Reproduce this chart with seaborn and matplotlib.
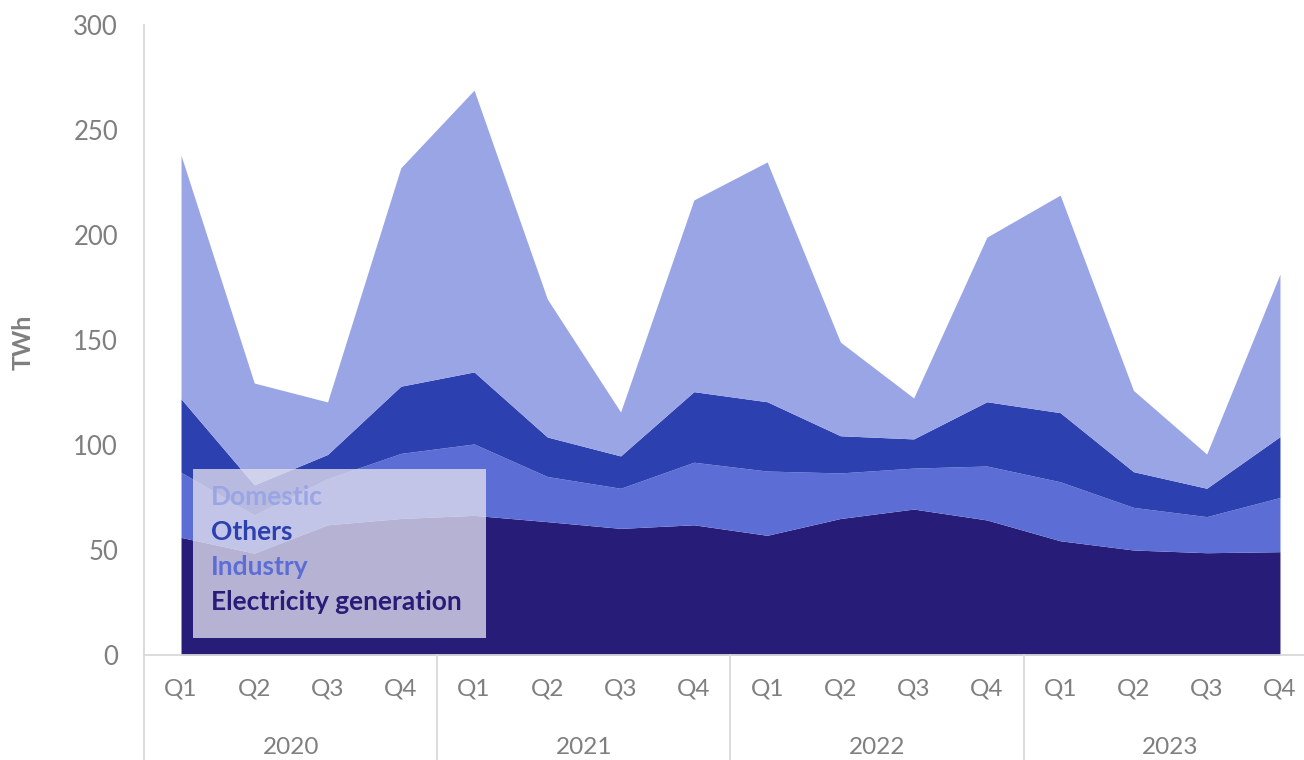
import matplotlib
matplotlib.use("Agg")
import matplotlib.pyplot as plt
import matplotlib.transforms as mtransforms
from matplotlib.patches import Rectangle
import seaborn as sns
import numpy as np

# ---- data (TWh) ----
years = ["2020", "2021", "2022", "2023"]
quarters = ["Q1", "Q2", "Q3", "Q4"]
electricity = [56, 48.5, 62, 65, 66.5, 63.5, 60.3, 62, 57, 65, 69.5, 64.3, 54.4, 50, 48.7, 49.2]
industry = [31, 18.2, 22, 31, 34, 21.5, 19.1, 29.8, 30.6, 21.7, 19.5, 25.7, 28.1, 20.3, 17.2, 25.8]
others = [35, 14.3, 11.5, 32, 34.3, 18.8, 15.4, 33.6, 33, 17.7, 13.9, 30.6, 32.9, 17, 13.5, 29]
domestic = [116, 48.5, 25, 104, 134.2, 65.7, 20.9, 91.3, 114.2, 44.6, 19.5, 78.4, 103.6, 38.7, 16.3, 77.4]
series_names = ["Electricity generation", "Industry", "Others", "Domestic"]
colors = ["#271C78", "#5C6ED6", "#2C40B0", "#99A5E4"]

sns.set_theme(style="white")
plt.rcParams['font.family'] = ['Lato', 'DejaVu Sans']

W, H = 1304, 760
fig = plt.figure(figsize=(W / 100, H / 100), dpi=100)
fig.patch.set_facecolor("white")
ax = fig.add_axes([144.4 / W, 105 / H, 1172.2 / W, 630 / H])

x = np.arange(len(electricity))
ax.stackplot(x, electricity, industry, others, domestic, colors=colors,
             labels=series_names, linewidth=0)

ax.set_xlim(-0.5, 15.5)
ax.set_ylim(0, 300)
ax.set_yticks(range(0, 301, 50))
ax.tick_params(axis="y", length=0, pad=19, labelsize=18.5, labelcolor="#7F7F7F")
ax.set_xticks(x)
ax.set_xticklabels(quarters * len(years))
ax.tick_params(axis="x", length=0, pad=17, labelsize=17.5, labelcolor="#7F7F7F")
ax.set_ylabel("TWh", fontsize=18, fontweight="bold", color="#7F7F7F")
ax.yaxis.set_label_coords((35 - 144.4) / 1172.2, (655 - 342) / 630)

sns.despine(ax=ax, top=True, right=True)
for s in ["left", "bottom"]:
    ax.spines[s].set_color("#D9D9D9")
    ax.spines[s].set_linewidth(1.3)

# separators and y-axis extension below the baseline
trans = mtransforms.blended_transform_factory(ax.transData, ax.transAxes)
ext = -105 / 630
for xs in [-0.5, 3.5, 7.5, 11.5]:
    ax.plot([xs, xs], [0, ext], transform=trans, color="#D9D9D9", lw=1.3, clip_on=False)

# year labels
for i, yr in enumerate(years):
    ax.text(i * 4 + 1.5, -93 / 630, yr, transform=trans, ha="center", va="center",
            fontsize=17.5, color="#7F7F7F")

# legend box (manual, as in the reference)
box = Rectangle((193 / W, (H - 638) / H), 293 / W, 169 / H, transform=fig.transFigure,
                facecolor="#E0DEEE", alpha=0.78, edgecolor="none", zorder=5)
fig.patches.append(box)
leg_items = [("Domestic", colors[3], 497), ("Others", colors[2], 532),
             ("Industry", colors[1], 567), ("Electricity generation", colors[0], 602)]
for name, c, ypx in leg_items:
    fig.text(211 / W, (H - ypx) / H, name, ha="left", va="center", fontsize=19,
             fontweight="bold", color=c, zorder=6)

fig.savefig("out.png", dpi=100)
